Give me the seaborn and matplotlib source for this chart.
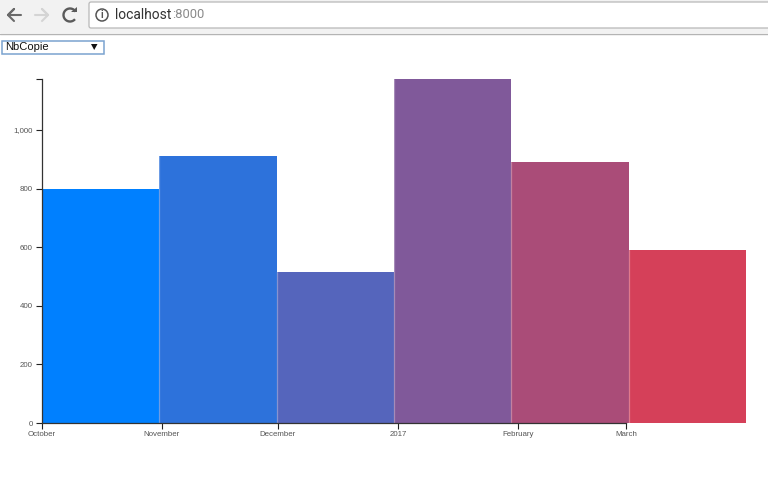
#!/usr/bin/env python3
import pandas as pd
import matplotlib
matplotlib.use('Agg')
import matplotlib.pyplot as plt
from matplotlib.patches import Circle, FancyBboxPatch, Rectangle
import seaborn as sns

# data
months = ['October', 'November', 'December', 'January', 'February', 'March']
nb_copie = [800, 911, 515, 1174, 890, 590]
bar_colors = ['#0080FF', '#2D72DB', '#5565BC', '#80599A', '#AA4C78', '#D54059']
tick_dates = ['2016-10-01', '2016-11-01', '2016-12-01', '2017-01-01', '2017-02-01', '2017-03-01']
tick_labels = ['October', 'November', 'December', '2017', 'February', 'March']
end_date = '2017-04-01'
y_ticks = [0, 200, 400, 600, 800, 1000]
y_max = 1174

W, H = 768, 482
sns.set_theme(style='white')
plt.rcParams['font.family'] = ['Liberation Sans', 'DejaVu Sans']

fig = plt.figure(figsize=(W / 100, H / 100), dpi=100, facecolor='white')
ax = fig.add_axes([42 / W, 1 - 423 / H, 704 / W, 344 / H])

df = pd.DataFrame({'month': months, 'value': nb_copie})
sns.barplot(data=df, x='month', y='value', hue='month', palette=bar_colors, legend=False,
            width=1.0, saturation=1, linewidth=0, ax=ax)
# thin pale line at the left of each bar except the first
for patch in ax.patches[1:]:
    ax.axvline(patch.get_x(), ymax=patch.get_height() / y_max, color='white', alpha=0.3, lw=0.9, zorder=3)
ax.set_xlim(-0.5, 5.5)
ax.set_ylim(0, y_max)
ax.set_xlabel('')
ax.set_ylabel('')

# the x axis is a time scale laid over the bars
dates = pd.to_datetime(tick_dates)
start, end = dates[0], pd.Timestamp(end_date)
x_pos = [(d - start) / (end - start) * 6 - 0.5 for d in dates]
ax.set_xticks(x_pos)
ax.set_xticklabels(tick_labels)
ax.set_yticks(y_ticks)
ax.set_yticklabels([f'{v:,}' for v in y_ticks])
ax.set_yticks([y_max], minor=True)

ax.tick_params(axis='both', which='both', length=4.2, width=0.8, color='#222222',
               labelsize=5.7, labelcolor='#555555', left=True, bottom=True, pad=2.5)
ax.tick_params(axis='x', which='major', pad=1.8)
ax.tick_params(axis='y', which='minor', labelleft=False)
for side in ['top', 'right']:
    ax.spines[side].set_visible(False)
for side in ['left', 'bottom']:
    ax.spines[side].set_color('#333333')
    ax.spines[side].set_linewidth(0.9)
    ax.spines[side].set_zorder(4)
ax.spines['bottom'].set_bounds(x_pos[0], x_pos[-1])

# browser chrome, drawn in pixel coordinates
ui = fig.add_axes([0, 0, 1, 1], zorder=5)
ui.set_xlim(0, W)
ui.set_ylim(H, 0)
ui.axis('off')
ui.patch.set_alpha(0)

ui.add_patch(Rectangle((0, 0), W, 33, fc='#F2F2F2', ec='none'))
ui.plot([0, W], [33.5, 33.5], color='#B4B4B4', lw=1)
ui.add_patch(FancyBboxPatch((89, 2), 690, 26, boxstyle='round,pad=0,rounding_size=2',
                            fc='white', ec='#B8B8B8', lw=0.9))

# back and forward arrows
ui.plot([21, 8, 14, 8, 14], [15, 15, 9, 15, 21], color='#6A6A6A', lw=1.5, solid_capstyle='round')
ui.plot([35, 48, 42, 48, 42], [15, 15, 9, 15, 21], color='#D4D4D4', lw=1.5, solid_capstyle='round')

# reload icon
ui.add_patch(matplotlib.patches.Arc((70, 15), 13, 13, angle=0, theta1=-320, theta2=-30,
                                    color='#5A5A5A', lw=1.7))
ui.fill([71, 77, 77], [12, 12, 6.5], color='#5A5A5A', lw=0)

# site info icon
ui.add_patch(Circle((102, 15), 6, fc='none', ec='#555555', lw=1.1))
ui.text(102, 15.3, 'i', ha='center', va='center', fontsize=7, fontweight='bold', color='#555555')

ui.text(115, 15, 'localhost', ha='left', va='center', fontsize=10, color='#333333', family='Roboto')
ui.text(172, 15, ':8000', ha='left', va='center', fontsize=9.4, color='#8A8A8A', family='Roboto')

# the select box
ui.add_patch(Rectangle((2, 40.5), 102, 13, fc='white', ec='#7BA3D0', lw=1.1))
ui.text(5.5, 47.5, 'NbCopie', ha='left', va='center', fontsize=8, color='#111111')
ui.fill([91, 97.5, 94.2], [44, 44, 50], color='#111111', lw=0)

fig.savefig('out.png', dpi=100, facecolor='white')
